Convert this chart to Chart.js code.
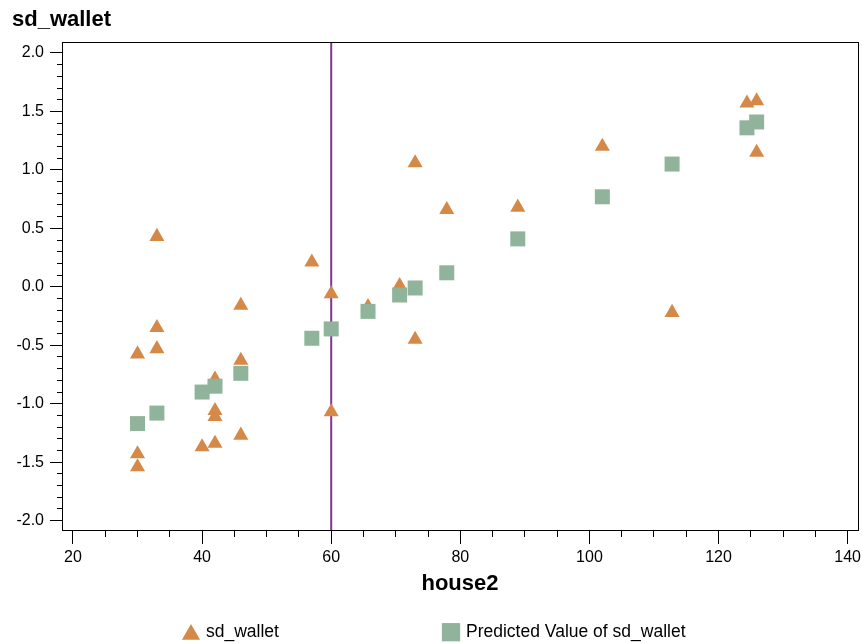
<!DOCTYPE html>
<html>
<head>
<meta charset="utf-8">
<title>sd_wallet by house2</title>
<script src="https://cdn.jsdelivr.net/npm/chart.js@4/dist/chart.umd.min.js"></script>
<style>
  html, body { margin: 0; padding: 0; background: #ffffff; }
  #wrap { width: 862px; height: 643px; }
</style>
</head>
<body>
<div id="wrap"><canvas id="chart" width="862" height="643"></canvas></div>
<script>
// Observed sd_wallet for each record, by house2
const houseObs  = [30, 30, 30, 33, 33, 33, 40, 42, 42, 42, 42, 46, 46, 46, 57, 60, 60, 65.7, 70.6, 73, 73, 77.9, 88.9, 102, 112.8, 124.4, 125.9, 125.9];
const walletObs = [-0.575, -1.43, -1.54, 0.43, -0.35, -0.53, -1.37, -0.79, -1.06, -1.11, -1.34, -0.16, -0.63, -1.27, 0.21, -0.06, -1.07, -0.17, 0.01, 1.06, -0.45, 0.66, 0.68, 1.20, -0.22, 1.57, 1.59, 1.15];

// Fitted sd_wallet at each distinct house2 value
const housePred  = [30, 33, 40, 42, 46, 57, 60, 65.7, 70.6, 73, 77.9, 88.9, 102, 112.8, 124.4, 125.9];
const walletPred = [-1.17, -1.08, -0.90, -0.85, -0.74, -0.44, -0.36, -0.21, -0.07, -0.01, 0.12, 0.41, 0.77, 1.05, 1.36, 1.41];

// Axis ticks and reference line
const xTickValues = [20, 40, 60, 80, 100, 120, 140];
const yTickValues = [-2.0, -1.5, -1.0, -0.5, 0.0, 0.5, 1.0, 1.5, 2.0];
const refHouse = 60;

const seriesNames = ['sd_wallet', 'Predicted Value of sd_wallet'];
const axisTitles = { x: 'house2', y: 'sd_wallet' };

const X_MIN = 18.3, X_MAX = 141.6;
const Y_MIN = -2.08, Y_MAX = 2.094;

const ORANGE = '#d58948';
const SAGE = '#8fb39b';
const PURPLE = '#83368f';
const FONT = '"Liberation Sans", Arial, Helvetica, sans-serif';

Chart.defaults.font.family = FONT;
Chart.defaults.color = '#000000';

const toPoints = (xs, ys) => xs.map((x, i) => ({ x: x, y: ys[i] }));

// Fixed axis box sizes; end labels may overhang the plot edges
const fixSize = (w, h) => s => {
  if (w !== null) s.width = w;
  if (h !== null) s.height = h;
  s.paddingLeft = 0; s.paddingRight = 0; s.paddingTop = 0; s.paddingBottom = 0;
};

// Reference line, frame, vertical axis title and legend
const decorations = {
  id: 'decorations',
  beforeDatasetsDraw(chart) {
    const { ctx, chartArea: a, scales } = chart;
    const px = scales.x.getPixelForValue(refHouse);
    ctx.save();
    ctx.strokeStyle = PURPLE;
    ctx.lineWidth = 2;
    ctx.beginPath();
    ctx.moveTo(px, a.top);
    ctx.lineTo(px, a.bottom);
    ctx.stroke();
    ctx.restore();
  },
  afterDraw(chart) {
    const { ctx, chartArea: a } = chart;
    ctx.save();
    // plot frame
    ctx.strokeStyle = '#000000';
    ctx.lineWidth = 1;
    ctx.strokeRect(Math.round(a.left) + 0.5, Math.round(a.top) + 0.5,
                   Math.round(a.right - a.left), Math.round(a.bottom - a.top));

    // vertical axis title, written horizontally above the axis
    ctx.fillStyle = '#000000';
    ctx.font = 'bold 22px ' + FONT;
    ctx.textAlign = 'left';
    ctx.textBaseline = 'alphabetic';
    ctx.fillText(axisTitles.y, 12, 26);

    // legend
    const ds = chart.data.datasets;
    const items = [
      { ds: ds[0], style: 'triangle', radius: 10.5, mx: 191, my: 634.5, tx: 206 },
      { ds: ds[1], style: 'rect', radius: 12.9, mx: 451, my: 632.2, tx: 466 }
    ];
    items.forEach(it => {
      ctx.fillStyle = it.ds.backgroundColor;
      Chart.helpers.drawPoint(ctx, { pointStyle: it.style, radius: it.radius, rotation: 0, borderWidth: 0 }, it.mx, it.my);
      ctx.fillStyle = '#000000';
      ctx.font = '17.5px ' + FONT;
      ctx.textBaseline = 'alphabetic';
      ctx.fillText(it.ds.label, it.tx, 637);
    });
    ctx.restore();
  }
};

const majorTickFont = { family: FONT, size: 16 };

new Chart(document.getElementById('chart'), {
  type: 'scatter',
  data: {
    datasets: [
      {
        label: seriesNames[0],
        data: toPoints(houseObs, walletObs),
        pointStyle: 'triangle',
        pointRadius: 8.7,
        pointHoverRadius: 8.7,
        backgroundColor: ORANGE,
        borderWidth: 0,
        order: 1
      },
      {
        label: seriesNames[1],
        data: toPoints(housePred, walletPred),
        pointStyle: 'rect',
        pointRadius: 10.6,
        pointHoverRadius: 10.6,
        backgroundColor: SAGE,
        borderWidth: 0,
        order: 0
      }
    ]
  },
  options: {
    responsive: false,
    animation: false,
    devicePixelRatio: 1,
    layout: { autoPadding: false, padding: { top: 42, right: 4, bottom: 0, left: 0 } },
    plugins: {
      legend: { display: false },
      title: { display: false },
      tooltip: { enabled: false }
    },
    scales: {
      x: {
        type: 'linear',
        position: 'bottom',
        weight: 1,
        min: X_MIN,
        max: X_MAX,
        afterBuildTicks: s => { s.ticks = xTickValues.map(v => ({ value: v })); },
        afterFit: fixSize(null, 113),
        ticks: { autoSkip: false, includeBounds: false, maxRotation: 0, padding: 4, font: majorTickFont, color: '#000000',
                 callback: v => String(v) },
        grid: { drawOnChartArea: false, drawTicks: true, tickLength: 14, tickColor: '#000000', color: '#000000' },
        border: { display: true, color: '#000000', width: 1 },
        title: { display: true, text: axisTitles.x, color: '#000000',
                 font: { family: FONT, size: 22, weight: 'bold' }, padding: { top: 0, bottom: 46 } }
      },
      xMinor: {
        type: 'linear',
        position: 'bottom',
        weight: 0,
        min: X_MIN,
        max: X_MAX,
        afterFit: fixSize(null, 0),
        ticks: { display: false, stepSize: 5, autoSkip: false, includeBounds: false },
        grid: { drawOnChartArea: false, drawTicks: true, tickLength: 7, tickColor: '#000000' },
        border: { display: false }
      },
      y: {
        type: 'linear',
        position: 'left',
        weight: 1,
        min: Y_MIN,
        max: Y_MAX,
        afterBuildTicks: s => { s.ticks = yTickValues.map(v => ({ value: v })); },
        afterFit: fixSize(62, null),
        ticks: { autoSkip: false, includeBounds: false, padding: 6, font: majorTickFont, color: '#000000',
                 callback: v => Number(v).toFixed(1) },
        grid: { drawOnChartArea: false, drawTicks: true, tickLength: 12, tickColor: '#000000', color: '#000000' },
        border: { display: true, color: '#000000', width: 1 }
      },
      yMinor: {
        type: 'linear',
        position: 'left',
        weight: 0,
        min: Y_MIN,
        max: Y_MAX,
        afterFit: fixSize(0, null),
        ticks: { display: false, stepSize: 0.1, autoSkip: false, includeBounds: false },
        grid: { drawOnChartArea: false, drawTicks: true, tickLength: 5, tickColor: '#000000' },
        border: { display: false }
      }
    }
  },
  plugins: [decorations]
});
</script>
</body>
</html>
